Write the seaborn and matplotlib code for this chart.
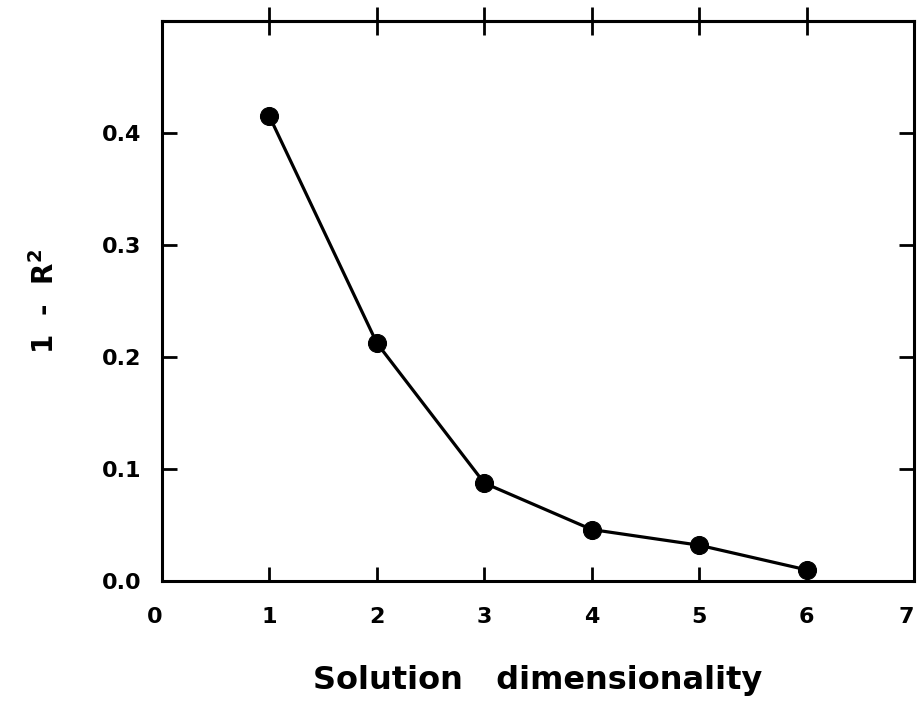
"""
Scree plot: 1 - R^2 against solution dimensionality
Output: out.png
"""
import pandas as pd
import matplotlib.pyplot as plt
import seaborn as sns

# data
dimensions = [1, 2, 3, 4, 5, 6]
badness = [0.415, 0.2125, 0.0875, 0.046, 0.032, 0.010]
x_ticks = [0, 1, 2, 3, 4, 5, 6, 7]
y_ticks = [0.0, 0.1, 0.2, 0.3, 0.4]

sns.set_style("ticks")
plt.rcParams['font.family'] = ['DejaVu Sans']
plt.rcParams['font.weight'] = 'bold'
plt.rcParams['text.color'] = 'black'
plt.rcParams['xtick.color'] = 'black'
plt.rcParams['ytick.color'] = 'black'
plt.rcParams['axes.labelcolor'] = 'black'

df = pd.DataFrame({"dim": dimensions, "val": badness})

fig = plt.figure(figsize=(9.17, 7.06), dpi=100)
ax = fig.add_axes([0.1767, 0.177, 0.82, 0.793])

sns.lineplot(data=df, x="dim", y="val", ax=ax,
             color="black", linewidth=2.3,
             marker="o", markersize=13, markeredgecolor="black",
             markerfacecolor="black", clip_on=False, zorder=5)

ax.set_xlim(0, 7)
ax.set_ylim(0, 0.5)
ax.set_xticks(x_ticks)
ax.set_yticks(y_ticks)
ax.set_yticklabels([f"{v:.1f}" for v in y_ticks])

for s in ax.spines.values():
    s.set_linewidth(2.2)
    s.set_color("black")

# bottom/left/right ticks point inward
ax.tick_params(axis="x", which="both", direction="in", length=10, width=2,
               labelsize=16, pad=19, top=False)
ax.tick_params(axis="y", which="both", direction="in", length=11, width=2,
               labelsize=16, pad=15, right=True)

# top ticks cross the frame
ax_top = ax.secondary_xaxis("top")
ax_top.set_xticks([1, 2, 3, 4, 5, 6])
ax_top.tick_params(direction="inout", length=20, width=2, labeltop=False)
ax_top.spines["top"].set_linewidth(2.2)

for lab in ax.get_xticklabels() + ax.get_yticklabels():
    lab.set_fontweight("bold")
# the "7" sits flush with the right frame in the original
ax.get_xticklabels()[-1].set_horizontalalignment("right")
ax.get_xticklabels()[0].set_horizontalalignment("right")

ax.set_xlabel("Solution   dimensionality", fontsize=23, fontweight="bold",
              labelpad=27)
ax.set_ylabel("1  -  R$^{\\mathbf{2}}$", fontsize=20, fontweight="bold",
              labelpad=30)

plt.savefig("out.png", dpi=100)
plt.close()
